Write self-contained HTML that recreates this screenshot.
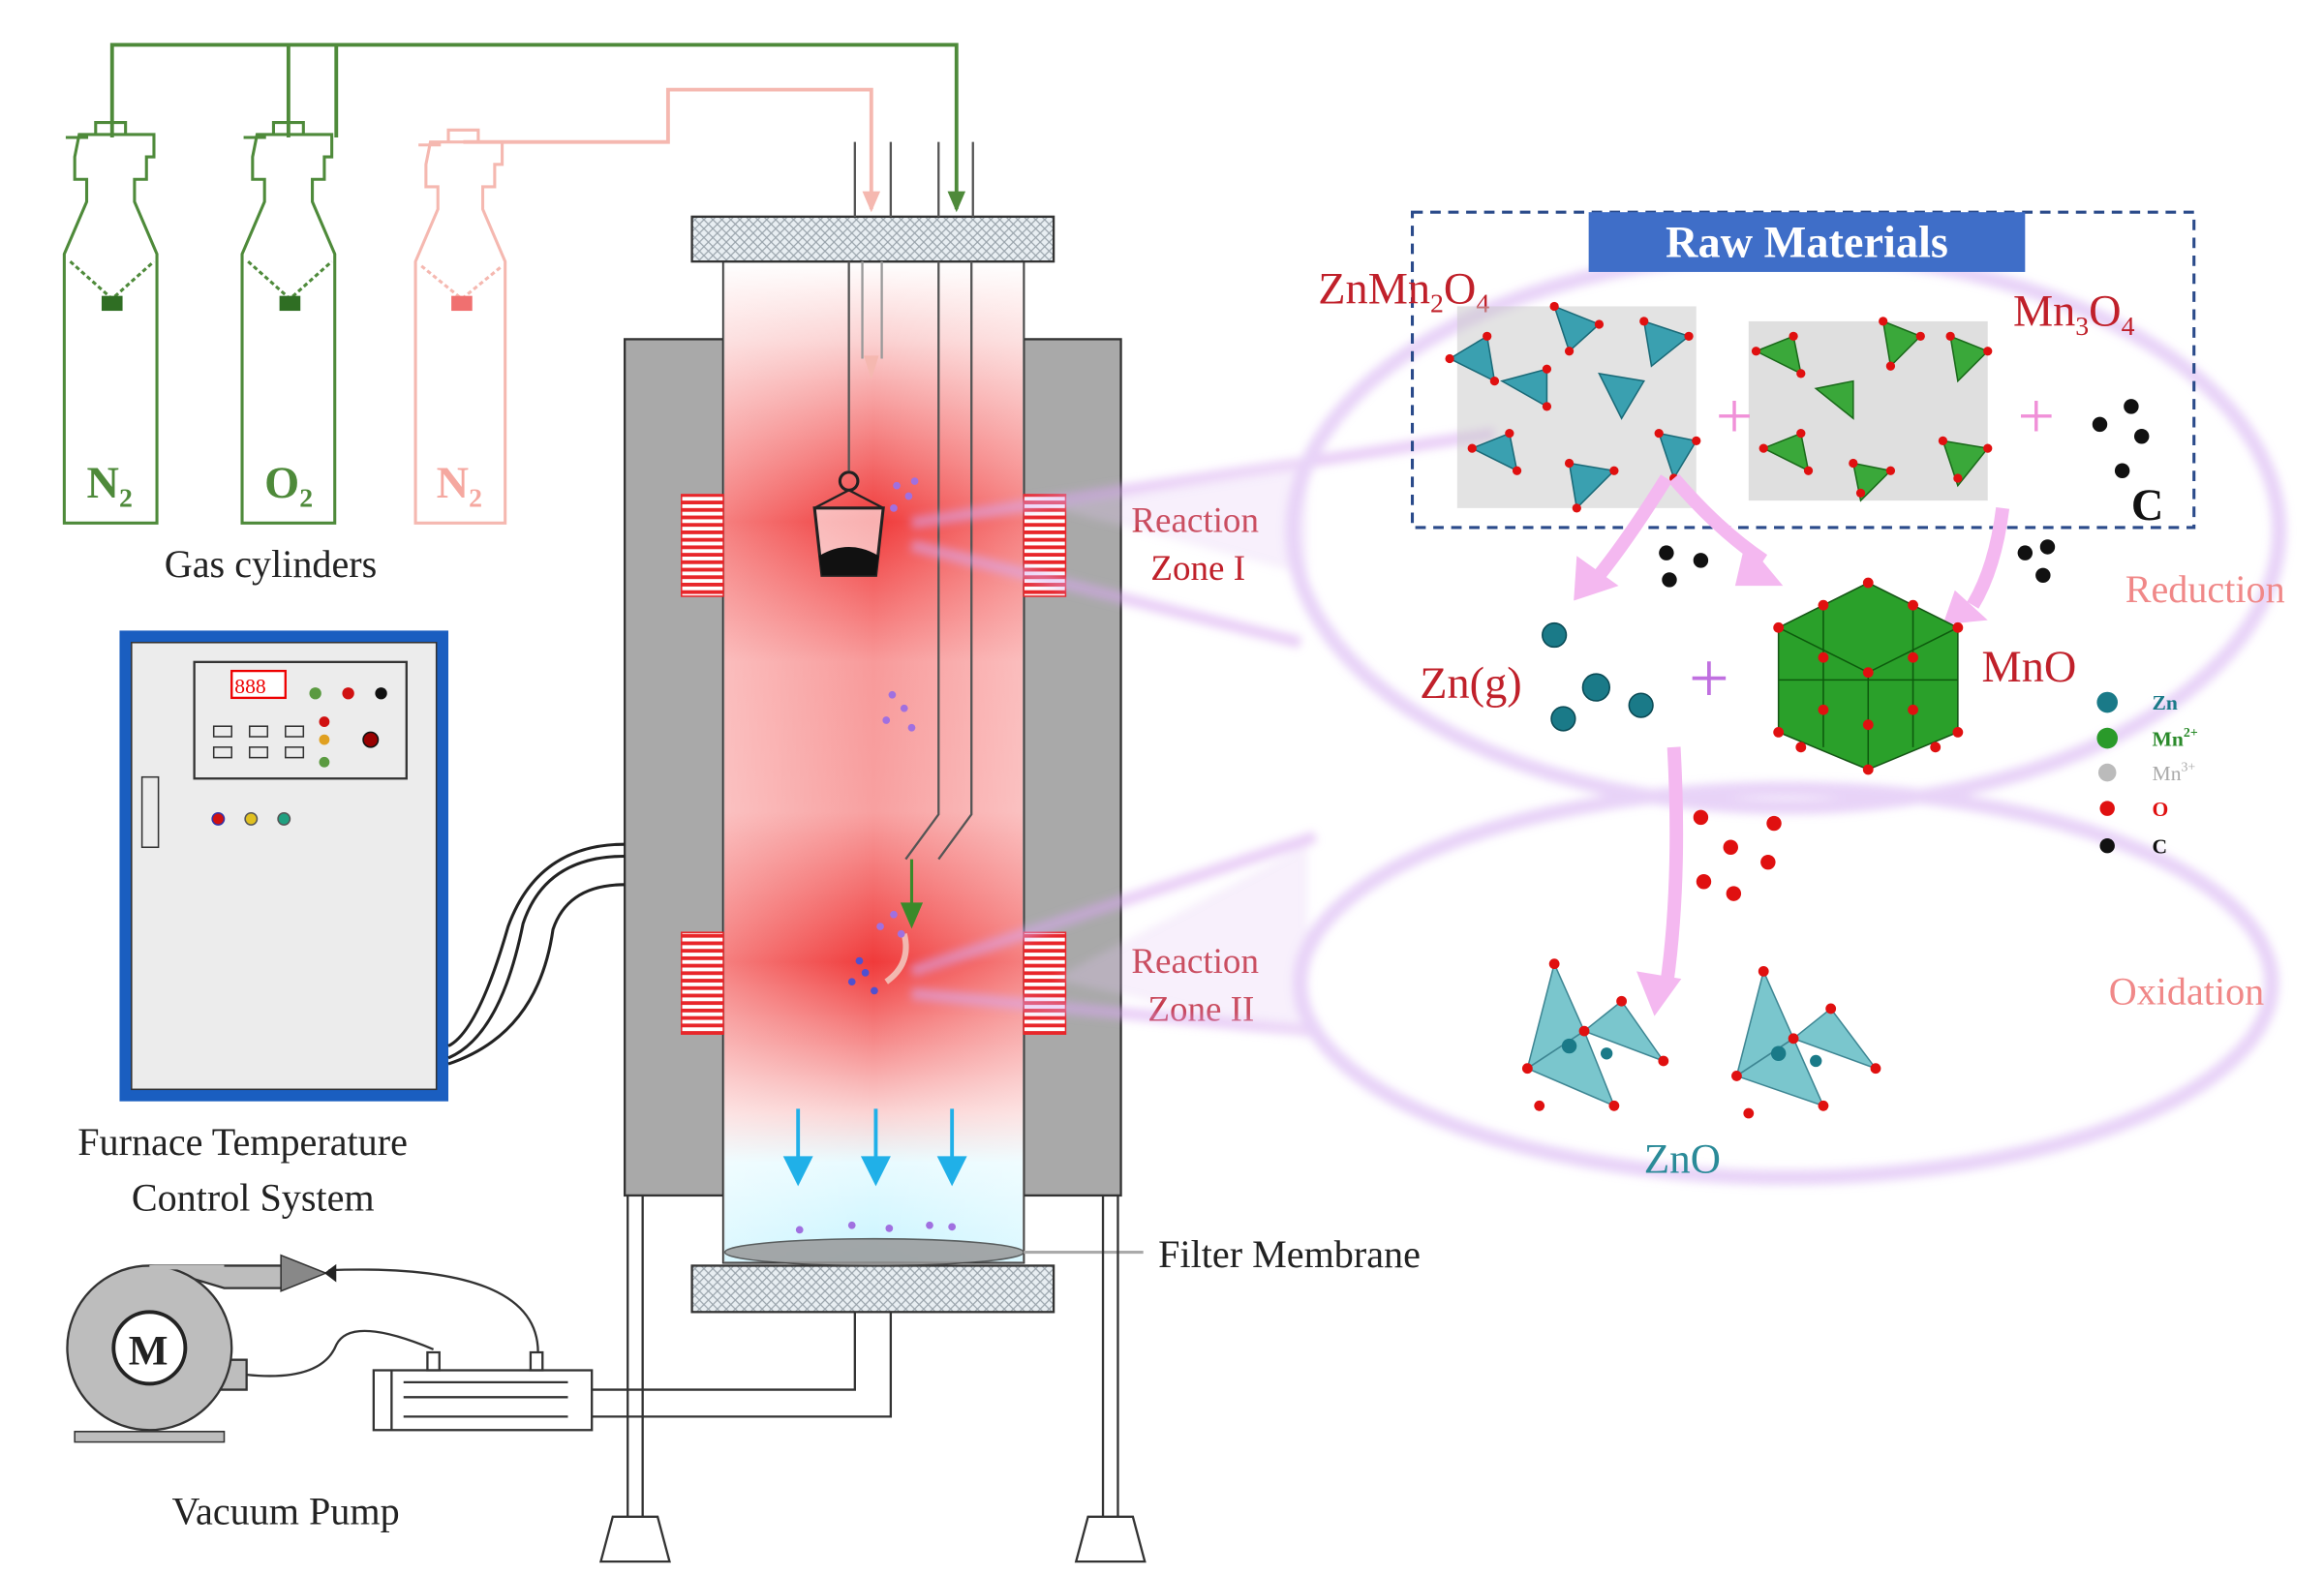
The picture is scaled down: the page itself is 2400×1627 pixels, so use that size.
<!DOCTYPE html>
<html><head><meta charset="utf-8">
<style>
html,body{margin:0;padding:0;background:#fff;}
svg{display:block;}
text{font-family:"Liberation Serif",serif;}
</style></head>
<body>
<svg width="2400" height="1627" viewBox="0 0 1555 1054" preserveAspectRatio="none" xmlns="http://www.w3.org/2000/svg">
<defs>
<linearGradient id="tube" x1="0" y1="0" x2="0" y2="1">
<stop offset="0" stop-color="#fff"/>
<stop offset="0.08" stop-color="#fbd0d0"/>
<stop offset="0.26" stop-color="#f03a3a"/>
<stop offset="0.4" stop-color="#f89a9a"/>
<stop offset="0.55" stop-color="#f8a0a0"/>
<stop offset="0.7" stop-color="#f03a3a"/>
<stop offset="0.85" stop-color="#fbd3d3"/>
<stop offset="0.9" stop-color="#e8fbff"/>
<stop offset="1" stop-color="#c8f4ff"/>
</linearGradient>
<linearGradient id="tubeH" x1="0" y1="0" x2="1" y2="0">
<stop offset="0" stop-color="#fff" stop-opacity="0.35"/>
<stop offset="0.5" stop-color="#fff" stop-opacity="0"/>
<stop offset="1" stop-color="#fff" stop-opacity="0.35"/>
</linearGradient>
<pattern id="hatch" width="6" height="6" patternUnits="userSpaceOnUse">
<rect width="6" height="6" fill="#e8eef2"/>
<path d="M0 0L6 6M6 0L0 6" stroke="#9aa4ac" stroke-width="0.8"/>
</pattern>
<pattern id="coil" width="4" height="5" patternUnits="userSpaceOnUse">
<rect width="4" height="5" fill="#fff"/>
<rect width="4" height="2.5" fill="#e8262a"/>
</pattern>
<filter id="blur"><feGaussianBlur stdDeviation="3"/></filter>
</defs>

<!-- gas lines -->
<g fill="none" stroke-width="2.5">
<path d="M75 92V30H640V140" stroke="#4e8a3a"/>
<path d="M193 92V30M225 92V30" stroke="#4e8a3a"/>
<path d="M310 95H447V60H583V140" stroke="#f5b8b0"/>
</g>
<path d="M634 128l6 14 6-14z" fill="#4e8a3a"/>
<path d="M577 128l6 14 6-14z" fill="#f5b8b0"/>

<!-- cylinders -->
<g fill="none" stroke-width="2">
<g stroke="#4e8a3a">
<path d="M44 92h15M64 82h20v8h-20z M53 90h50v15h-5v15h-8v15l15 35v180h-62v-180l15-35v-15h-8v-15z"/>
<path d="M163 92h15M183 82h20v8h-20z M172 90h50v15h-5v15h-8v15l15 35v180h-62v-180l15-35v-15h-8v-15z"/>
<path d="M47 175l28 25 28-25M166 175l28 25 28-25" stroke-dasharray="3 2"/>
</g>
<g stroke="#f5b8b0">
<path d="M280 97h15M300 87h20v8h-20z M288 95h48v15h-5v15h-8v15l15 35v175h-60v-175l15-35v-15h-8v-15z"/>
<path d="M282 178l27 22 27-22" stroke-dasharray="3 2"/>
</g>
</g>
<rect x="68" y="198" width="14" height="10" fill="#2f6e23"/>
<rect x="187" y="198" width="14" height="10" fill="#2f6e23"/>
<rect x="302" y="198" width="14" height="10" fill="#f07070"/>
<text x="58" y="333" font-size="30" font-weight="bold" fill="#4e8a3a">N<tspan font-size="18" dy="6">2</tspan></text>
<text x="177" y="333" font-size="30" font-weight="bold" fill="#4e8a3a">O<tspan font-size="18" dy="6">2</tspan></text>
<text x="292" y="333" font-size="30" font-weight="bold" fill="#f5a8a0">N<tspan font-size="18" dy="6">2</tspan></text>
<text x="110" y="386" font-size="26" fill="#222">Gas cylinders</text>

<!-- furnace -->
<rect x="418" y="227" width="66" height="573" fill="#a9a9a9" stroke="#333" stroke-width="1.5"/>
<rect x="685" y="227" width="65" height="573" fill="#a9a9a9" stroke="#333" stroke-width="1.5"/>
<rect x="484" y="175" width="201" height="670" fill="url(#tube)" stroke="#333" stroke-width="1.5"/>
<rect x="484" y="175" width="201" height="670" fill="url(#tubeH)"/>
<rect x="463" y="145" width="242" height="30" fill="url(#hatch)" stroke="#333" stroke-width="1.5"/>
<rect x="463" y="847" width="242" height="31" fill="url(#hatch)" stroke="#333" stroke-width="1.5"/>
<g stroke="#555" stroke-width="1.5" fill="none">
<path d="M572 95v50M596 95v50M628 95v50M651 95v50"/>
<path d="M577 175v65M590 175v65" stroke="#999"/>
<path d="M568 175v140M628 175v370l-22 30M650 175v370l-22 30" stroke="#555"/>
</g>
<path d="M578 238l5 16 5-16z" fill="#f5b8b0"/>
<path d="M610 575v40M604 605l6 14 6-14z" fill="#3a8a2a" stroke="#3a8a2a" stroke-width="2"/>
<path d="M605 625q5 20-12 32" stroke="#f2b8b0" stroke-width="4" fill="none"/>
<!-- crucible -->
<circle cx="568" cy="322" r="6" fill="none" stroke="#222" stroke-width="2"/>
<path d="M545 340l46 0-5 45h-36z" fill="#fff" fill-opacity="0.6" stroke="#222" stroke-width="2"/>
<path d="M545 340l23-12 23 12" fill="none" stroke="#222" stroke-width="1.5"/>
<path d="M548 372q20-12 40 0l-2 13h-36z" fill="#111"/>
<!-- particles -->
<g fill="#a070e0">
<circle cx="600" cy="325" r="2.5"/><circle cx="608" cy="332" r="2.5"/><circle cx="598" cy="340" r="2.5"/><circle cx="612" cy="322" r="2.5"/>
<circle cx="597" cy="465" r="2.5"/><circle cx="605" cy="474" r="2.5"/><circle cx="593" cy="482" r="2.5"/><circle cx="610" cy="487" r="2.5"/>
<circle cx="598" cy="612" r="2.5"/><circle cx="589" cy="620" r="2.5"/><circle cx="603" cy="625" r="2.5"/>
<circle cx="570" cy="657" r="2.5" fill="#5050d0"/><circle cx="579" cy="651" r="2.5" fill="#5050d0"/><circle cx="585" cy="663" r="2.5" fill="#5050d0"/><circle cx="575" cy="643" r="2.5" fill="#5050d0"/>
<circle cx="535" cy="823" r="2.5"/><circle cx="570" cy="820" r="2.5"/><circle cx="595" cy="822" r="2.5"/><circle cx="622" cy="820" r="2.5"/><circle cx="637" cy="821" r="2.5"/>
</g>
<g stroke="#20b0e8" stroke-width="2.5" fill="#20b0e8">
<path d="M534 742v40"/><path d="M526 775l8 16 8-16z"/>
<path d="M586 742v40"/><path d="M578 775l8 16 8-16z"/>
<path d="M637 742v40"/><path d="M629 775l8 16 8-16z"/>
</g>
<ellipse cx="585" cy="838" rx="100" ry="9" fill="#999" stroke="#444" stroke-width="1" opacity="0.85"/>
<path d="M685 838H765" stroke="#aaa" stroke-width="2"/>
<text x="775" y="848" font-size="26" fill="#222">Filter Membrane</text>
<!-- heaters -->
<rect x="456" y="331" width="28" height="68" fill="url(#coil)" stroke="#e8262a"/>
<rect x="685" y="331" width="28" height="68" fill="url(#coil)" stroke="#e8262a"/>
<rect x="456" y="624" width="28" height="68" fill="url(#coil)" stroke="#e8262a"/>
<rect x="685" y="624" width="28" height="68" fill="url(#coil)" stroke="#e8262a"/>
<!-- legs -->
<g stroke="#333" stroke-width="1.5" fill="none">
<path d="M420 800v215M430 800v215M738 800v215M748 800v215"/>
<path d="M572 878v52H395M596 878v70H395"/>
<path d="M410 1015h30l8 30h-46zM728 1015h30l8 30h-46z" fill="#fff"/>
</g>
<text x="757" y="356" font-size="24" fill="#c0202a">Reaction</text>
<text x="770" y="388" font-size="24" fill="#c0202a">Zone I</text>
<text x="757" y="651" font-size="24" fill="#c0202a">Reaction</text>
<text x="768" y="683" font-size="24" fill="#c0202a">Zone II</text>

<!-- control box -->
<rect x="80" y="422" width="220" height="315" fill="#1a5ec0"/>
<rect x="88" y="430" width="204" height="299" fill="#ececec" stroke="#333"/>
<rect x="130" y="443" width="142" height="78" fill="#ececec" stroke="#333" stroke-width="1.5"/>
<rect x="155" y="449" width="36" height="18" fill="#fff" stroke="#e00" stroke-width="1.5"/>
<text x="157" y="464" font-size="14" fill="#e00" font-family="Liberation Mono">888</text>
<g fill="none" stroke="#333"><rect x="143" y="486" width="12" height="7"/><rect x="167" y="486" width="12" height="7"/><rect x="191" y="486" width="12" height="7"/><rect x="143" y="500" width="12" height="7"/><rect x="167" y="500" width="12" height="7"/><rect x="191" y="500" width="12" height="7"/><rect x="95" y="520" width="11" height="47"/></g>
<circle cx="211" cy="464" r="4" fill="#5a9a40"/><circle cx="233" cy="464" r="4" fill="#d01010"/><circle cx="255" cy="464" r="4" fill="#111"/>
<circle cx="217" cy="483" r="3.5" fill="#d01010"/><circle cx="217" cy="495" r="3.5" fill="#e0a020"/><circle cx="217" cy="510" r="3.5" fill="#5a9a40"/><circle cx="248" cy="495" r="5" fill="#900" stroke="#111"/>
<circle cx="146" cy="548" r="4" fill="#d01010" stroke="#33a"/><circle cx="168" cy="548" r="4" fill="#e0c020" stroke="#555"/><circle cx="190" cy="548" r="4" fill="#20a080" stroke="#555"/>
<g stroke="#222" stroke-width="2" fill="none">
<path d="M300 700q20-10 40-80q20-55 78-55"/>
<path d="M300 708q35-15 50-90q15-45 68-45"/>
<path d="M300 712q60-20 70-90q10-30 48-30"/>
</g>
<text x="52" y="773" font-size="26" fill="#222">Furnace Temperature</text>
<text x="88" y="810" font-size="26" fill="#222">Control System</text>

<!-- vacuum pump -->
<path d="M100 847 H190 V862 H150 Z" fill="#bdbdbd" stroke="#333" stroke-width="1.5"/>
<path d="M120 910 H165 V930 H120 Z" fill="#bdbdbd" stroke="#333" stroke-width="1.5"/>
<circle cx="100" cy="902" r="55" fill="#bdbdbd" stroke="#333" stroke-width="1.5"/>
<path d="M100 848 H150" stroke="#bdbdbd" stroke-width="3"/>
<path d="M50 958v7h100v-7z" fill="#bdbdbd" stroke="#333"/>
<circle cx="100" cy="902" r="24" fill="#fff" stroke="#222" stroke-width="2.5"/>
<text x="86" y="913" font-size="28" font-weight="bold" fill="#222">M</text>
<path d="M188 840l30 12-30 12z" fill="#888" stroke="#333"/>
<rect x="250" y="917" width="146" height="40" fill="#fff" stroke="#333" stroke-width="1.5"/>
<g stroke="#333" fill="none" stroke-width="1.5">
<path d="M262 917v40M270 925h110M270 935h110M270 948h110"/>
<path d="M286 905h8v12h-8zM355 905h8v12h-8z"/>
<path d="M220 850q140 -5 140 55"/>
<path d="M165 920q50 5 60-20q10-20 65 3"/>
</g>
<path d="M225 846l-8 6 8 6z" fill="#222"/>
<text x="115" y="1020" font-size="26" fill="#222">Vacuum Pump</text>

<!-- glow beams -->
<g filter="url(#blur)" opacity="0.55">
<path d="M610 350L870 310 1000 290" stroke="#d8a8f0" stroke-width="8" fill="none"/>
<path d="M610 365L870 430" stroke="#d8a8f0" stroke-width="8" fill="none"/>
<path d="M610 650L880 560" stroke="#d8a8f0" stroke-width="8" fill="none"/>
<path d="M610 665L880 690" stroke="#d8a8f0" stroke-width="8" fill="none"/>
<path d="M705 340l170-35v80z M705 655l170-90v130z" fill="#e4c8f4" opacity="0.5"/>
<ellipse cx="1195" cy="355" rx="330" ry="185" fill="none" stroke="#d6b0f2" stroke-width="10"/>
<ellipse cx="1195" cy="658" rx="325" ry="130" fill="none" stroke="#d6b0f2" stroke-width="10"/>
</g>

<!-- raw materials -->
<rect x="945" y="142" width="523" height="211" fill="none" stroke="#2a4a8a" stroke-width="2" stroke-dasharray="7 5"/>
<rect x="1063" y="142" width="292" height="40" fill="#3f6ec8"/>
<text x="1209" y="172" font-size="30" font-weight="bold" fill="#fff" text-anchor="middle">Raw Materials</text>
<text x="882" y="203" font-size="30" fill="#c0202a">ZnMn<tspan font-size="18" dy="6">2</tspan><tspan dy="-6">O</tspan><tspan font-size="18" dy="6">4</tspan></text>
<text x="1347" y="218" font-size="30" fill="#c0202a">Mn<tspan font-size="18" dy="6">3</tspan><tspan dy="-6">O</tspan><tspan font-size="18" dy="6">4</tspan></text>
<g>
<rect x="975" y="205" width="160" height="135" fill="#c8c8c8" opacity="0.5"/>
<g fill="#3aa0b0" stroke="#1a6a78">
<path d="M970 240l25-15 5 30z"/><path d="M1040 205l30 12-20 18z"/><path d="M1100 215l30 10-25 20z"/><path d="M985 300l25-10 5 25z"/><path d="M1050 310l30 5-25 25z"/><path d="M1110 290l25 5-15 25z"/><path d="M1005 255l30-8 0 25z"/><path d="M1070 250l30 5-15 25z"/>
</g>
<rect x="1170" y="215" width="160" height="120" fill="#c0c0c0" opacity="0.5"/>
<g fill="#3aa83a" stroke="#1a6a1a">
<path d="M1175 235l25-10 5 25z"/><path d="M1260 215l25 10-20 20z"/><path d="M1305 225l25 10-20 20z"/><path d="M1180 300l25-10 5 25z"/><path d="M1240 310l25 5-20 20z"/><path d="M1300 295l30 5-20 25z"/><path d="M1215 260l25-5 0 25z"/>
</g>
<g fill="#e01010">
<circle cx="970" cy="240" r="3"/><circle cx="995" cy="225" r="3"/><circle cx="1000" cy="255" r="3"/><circle cx="1040" cy="205" r="3"/><circle cx="1070" cy="217" r="3"/><circle cx="1050" cy="235" r="3"/><circle cx="1100" cy="215" r="3"/><circle cx="1130" cy="225" r="3"/><circle cx="985" cy="300" r="3"/><circle cx="1010" cy="290" r="3"/><circle cx="1015" cy="315" r="3"/><circle cx="1050" cy="310" r="3"/><circle cx="1080" cy="315" r="3"/><circle cx="1055" cy="340" r="3"/><circle cx="1110" cy="290" r="3"/><circle cx="1135" cy="295" r="3"/><circle cx="1120" cy="320" r="3"/><circle cx="1035" cy="247" r="3"/><circle cx="1035" cy="272" r="3"/>
<circle cx="1175" cy="235" r="3"/><circle cx="1200" cy="225" r="3"/><circle cx="1205" cy="250" r="3"/><circle cx="1260" cy="215" r="3"/><circle cx="1285" cy="225" r="3"/><circle cx="1265" cy="245" r="3"/><circle cx="1305" cy="225" r="3"/><circle cx="1330" cy="235" r="3"/><circle cx="1180" cy="300" r="3"/><circle cx="1205" cy="290" r="3"/><circle cx="1210" cy="315" r="3"/><circle cx="1240" cy="310" r="3"/><circle cx="1265" cy="315" r="3"/><circle cx="1245" cy="330" r="3"/><circle cx="1300" cy="295" r="3"/><circle cx="1330" cy="300" r="3"/><circle cx="1310" cy="320" r="3"/>
</g>
</g>
<text x="1148" y="293" font-size="44" fill="#f090d8">+</text>
<text x="1350" y="293" font-size="44" fill="#f090d8">+</text>
<g fill="#111"><circle cx="1426" cy="272" r="5"/><circle cx="1405" cy="284" r="5"/><circle cx="1433" cy="292" r="5"/><circle cx="1420" cy="315" r="5"/></g>
<text x="1426" y="348" font-size="30" font-weight="bold" fill="#111">C</text>
<g fill="none" stroke="#f4b8f0" stroke-width="9">
<path d="M1115 320Q1090 360 1070 385"/><path d="M1120 320Q1150 355 1180 375"/><path d="M1340 340Q1335 380 1320 405"/>
<path d="M1120 500Q1125 590 1115 660"/>
</g>
<g fill="#f4b8f0"><path d="M1055 372l28 20-30 10z"/><path d="M1168 362l25 30-32 0z"/><path d="M1308 395l22 20 -30 3z"/><path d="M1095 650l30 5-18 25z"/></g>
<g fill="#111"><circle cx="1115" cy="370" r="5"/><circle cx="1138" cy="375" r="5"/><circle cx="1117" cy="388" r="5"/><circle cx="1355" cy="370" r="5"/><circle cx="1370" cy="366" r="5"/><circle cx="1367" cy="385" r="5"/></g>
<text x="950" y="467" font-size="30" fill="#c0202a">Zn(g)</text>
<g fill="#1a7a88" stroke="#0a4a55"><circle cx="1040" cy="425" r="8"/><circle cx="1068" cy="460" r="9"/><circle cx="1098" cy="472" r="8"/><circle cx="1046" cy="481" r="8"/></g>
<text x="1130" y="470" font-size="48" fill="#c070e0">+</text>
<g>
<path d="M1190 420l60-30 60 30 0 70-60 25-60-25z" fill="#2aa02a" stroke="#155515"/>
<path d="M1190 420l60 30 60-30M1250 450v65M1220 405l0 95M1280 405l0 95M1190 455h120" stroke="#0d5a0d" fill="none"/>
<g fill="#e01010"><circle cx="1190" cy="420" r="3.5"/><circle cx="1250" cy="390" r="3.5"/><circle cx="1310" cy="420" r="3.5"/><circle cx="1310" cy="490" r="3.5"/><circle cx="1250" cy="515" r="3.5"/><circle cx="1190" cy="490" r="3.5"/><circle cx="1250" cy="450" r="3.5"/><circle cx="1220" cy="440" r="3.5"/><circle cx="1280" cy="440" r="3.5"/><circle cx="1220" cy="475" r="3.5"/><circle cx="1280" cy="475" r="3.5"/><circle cx="1250" cy="485" r="3.5"/><circle cx="1220" cy="405" r="3.5"/><circle cx="1280" cy="405" r="3.5"/><circle cx="1205" cy="500" r="3.5"/><circle cx="1295" cy="500" r="3.5"/></g>
</g>
<text x="1326" y="456" font-size="30" fill="#c0202a">MnO</text>
<circle cx="1410" cy="470" r="7" fill="#1a7a88"/><text x="1440" y="475" font-size="14" font-weight="bold" fill="#1a7a88">Zn</text>
<circle cx="1410" cy="494" r="7" fill="#2a9a2a"/><text x="1440" y="499" font-size="14" font-weight="bold" fill="#2a8a2a">Mn<tspan font-size="9" dy="-6">2+</tspan></text>
<circle cx="1410" cy="517" r="6" fill="#bbb"/><text x="1440" y="522" font-size="14" fill="#aaa">Mn<tspan font-size="9" dy="-6">3+</tspan></text>
<circle cx="1410" cy="541" r="5" fill="#e01010"/><text x="1440" y="546" font-size="14" font-weight="bold" fill="#e01010">O</text>
<circle cx="1410" cy="566" r="5" fill="#111"/><text x="1440" y="571" font-size="14" font-weight="bold" fill="#111">C</text>
<text x="1422" y="403" font-size="26" fill="#f08888">Reduction</text>
<text x="1411" y="672" font-size="26" fill="#f08888">Oxidation</text>
<g fill="#e01010"><circle cx="1138" cy="547" r="5"/><circle cx="1187" cy="551" r="5"/><circle cx="1158" cy="567" r="5"/><circle cx="1140" cy="590" r="5"/><circle cx="1183" cy="577" r="5"/><circle cx="1160" cy="598" r="5"/></g>
<g fill="#6cc0c8" stroke="#2a7a88" opacity="0.9">
<path d="M1040 645l20 45-38 25z"/><path d="M1060 690l25-20 28 40z"/><path d="M1022 715l38-25 20 50z"/>
<path d="M1180 650l20 45-38 25z"/><path d="M1200 695l25-20 30 40z"/><path d="M1162 720l38-25 20 45z"/>
</g>
<g fill="#e01010"><circle cx="1040" cy="645" r="3.5"/><circle cx="1060" cy="690" r="3.5"/><circle cx="1022" cy="715" r="3.5"/><circle cx="1085" cy="670" r="3.5"/><circle cx="1113" cy="710" r="3.5"/><circle cx="1080" cy="740" r="3.5"/><circle cx="1030" cy="740" r="3.5"/><circle cx="1180" cy="650" r="3.5"/><circle cx="1200" cy="695" r="3.5"/><circle cx="1162" cy="720" r="3.5"/><circle cx="1225" cy="675" r="3.5"/><circle cx="1255" cy="715" r="3.5"/><circle cx="1220" cy="740" r="3.5"/><circle cx="1170" cy="745" r="3.5"/></g>
<g fill="#1a7a88"><circle cx="1050" cy="700" r="5"/><circle cx="1190" cy="705" r="5"/><circle cx="1075" cy="705" r="4"/><circle cx="1215" cy="710" r="4"/></g>
<text x="1100" y="785" font-size="28" fill="#2a8a98">ZnO</text>
</svg>
</body></html>
